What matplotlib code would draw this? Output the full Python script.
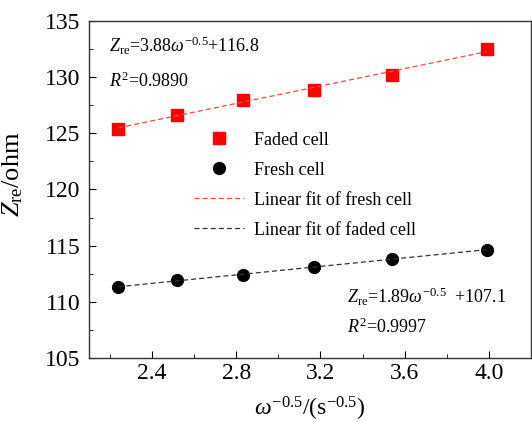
import numpy as np
import matplotlib
matplotlib.use("Agg")
import matplotlib.pyplot as plt
from matplotlib.ticker import MultipleLocator

# Données
x_omega = [2.24, 2.52, 2.83, 3.17, 3.54, 3.99]
z_faded = [125.4, 126.6, 128.0, 128.9, 130.2, 132.5]
z_fresh = [111.3, 111.9, 112.4, 113.1, 113.8, 114.6]

# Coefficients des droites (indiqués sur la figure)
fit_faded = (3.88, 116.8)
fit_fresh = (1.89, 107.1)

plt.rcParams['font.family'] = ['Liberation Serif', 'DejaVu Serif']
plt.rcParams['mathtext.fontset'] = 'custom'
plt.rcParams['mathtext.rm'] = 'Liberation Serif'
plt.rcParams['mathtext.it'] = 'Liberation Serif:italic'

fig = plt.figure(figsize=(5.32, 4.22), dpi=100)
ax = fig.add_axes([0.167, 0.152, 0.831, 0.798])

xs = np.array([x_omega[0], x_omega[-1]])

ax.plot(x_omega, z_faded, 's', color='#ff0000', ms=8, label='Faded cell')
ax.plot(x_omega, z_fresh, 'o', color='black', ms=8.5, label='Fresh cell')
ax.plot(xs, fit_faded[0] * xs + fit_faded[1], '--', color='#ff4545', lw=0.9,
        dashes=(4, 2.5), label='Linear fit of fresh cell')
ax.plot(xs, fit_fresh[0] * xs + fit_fresh[1], '--', color='#333333', lw=0.9,
        dashes=(4, 2.5), label='Linear fit of faded cell')

ax.set_xlim(2.1, 4.2)
ax.set_ylim(105, 135)
ax.xaxis.set_major_locator(MultipleLocator(0.4))
ax.xaxis.set_minor_locator(MultipleLocator(0.2))
ax.yaxis.set_major_locator(MultipleLocator(5))
ax.yaxis.set_minor_locator(MultipleLocator(2.5))
ax.xaxis.set_major_formatter(plt.FormatStrFormatter('%.1f'))
ax.tick_params(which='both', direction='in', top=False, right=False)
ax.tick_params(which='major', length=5, labelsize=17)
ax.tick_params(axis='y', which='major', pad=6)
ax.tick_params(which='minor', length=3)
for s in ax.spines.values():
    s.set_linewidth(1.0)
    s.set_color('#333333')

ax.set_xlabel(r'$\omega^{-0.5}$/(s$^{-0.5}$)', fontsize=17, labelpad=8)
ax.set_ylabel(r'$Z_{\rm re}$/ohm', fontsize=19)
ax.yaxis.set_label_coords(-0.145, 0.545)

ax.text(0.045, 0.925, r'$Z_{\rm re}$=3.88$\omega^{-0.5}$+116.8', transform=ax.transAxes,
        fontsize=13, va='center')
ax.text(0.045, 0.82, r'$R^2$=0.9890', transform=ax.transAxes, fontsize=13, va='center')
ax.text(0.585, 0.18, r'$Z_{\rm re}$=1.89$\omega^{-0.5}$  +107.1', transform=ax.transAxes,
        fontsize=13, va='center')
ax.text(0.585, 0.09, r'$R^2$=0.9997', transform=ax.transAxes, fontsize=13, va='center')

ax.legend(loc='upper left', bbox_to_anchor=(0.2, 0.72), frameon=False, fontsize=13,
          handlelength=2.8, handletextpad=0.55, labelspacing=0.72)

fig.savefig('out.png', dpi=100)
